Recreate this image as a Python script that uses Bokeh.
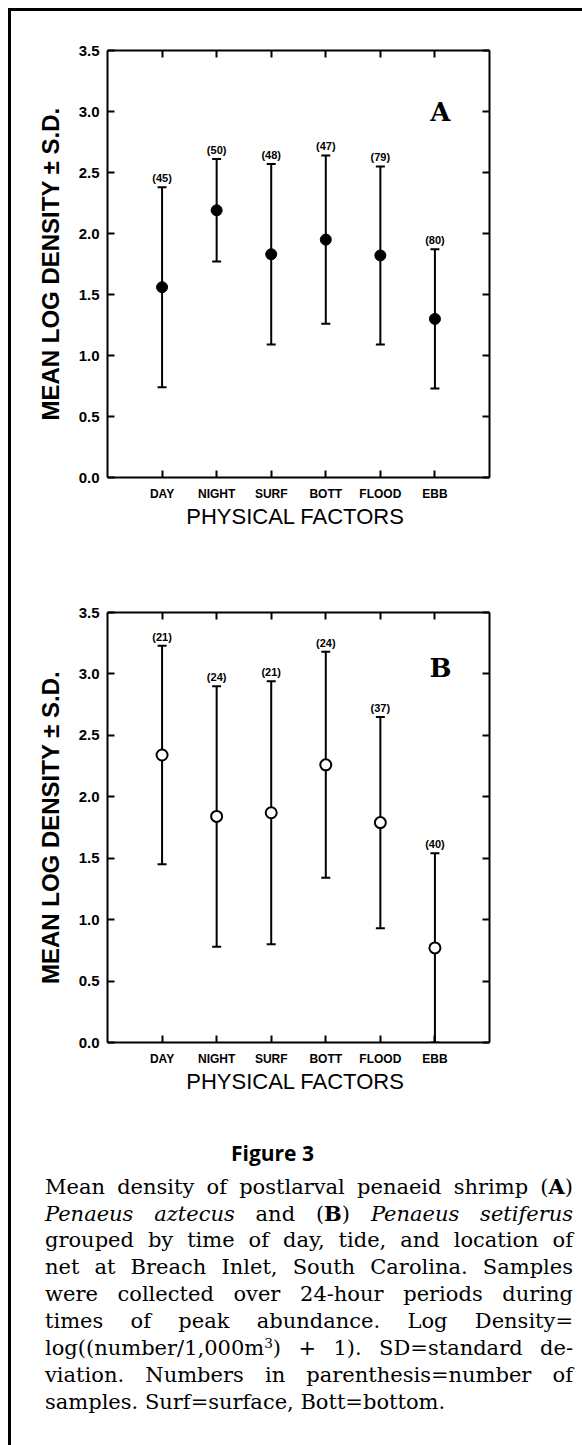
from bokeh.plotting import figure
from bokeh.models import (ColumnDataSource, Whisker, TeeHead, LinearAxis, FixedTicker,
                          Range1d, Label, Div, PrintfTickFormatter)
from bokeh.layouts import column
from bokeh.core.properties import value
from bokeh.embed import file_html
from bokeh.resources import INLINE

# ---------------- data ----------------
categories = ["DAY", "NIGHT", "SURF", "BOTT", "FLOOD", "EBB"]

a_mean = [1.56, 2.19, 1.83, 1.95, 1.82, 1.30]
a_sd = [0.82, 0.42, 0.74, 0.69, 0.73, 0.57]
a_n = [45, 50, 48, 47, 79, 80]

b_mean = [2.34, 1.84, 1.87, 2.26, 1.79, 0.77]
b_sd = [0.89, 1.06, 1.07, 0.92, 0.86, 0.77]
b_n = [21, 24, 21, 24, 37, 40]

y_ticks = [0.0, 0.5, 1.0, 1.5, 2.0, 2.5, 3.0, 3.5]
y_label = "MEAN LOG DENSITY \u00b1 S.D."
x_label = "PHYSICAL  FACTORS"

caption_title = "Figure 3"
caption_lines = [
    "Mean density of postlarval penaeid shrimp (<b>A</b>)",
    "<i>Penaeus aztecus</i> and (<b>B</b>) <i>Penaeus setiferus</i>",
    "grouped by time of day, tide, and location of",
    "net at Breach Inlet, South Carolina. Samples",
    "were collected over 24-hour periods during",
    "times of peak abundance. Log Density=",
    "log((number/1,000m<sup style=\"font-size:0.65em; line-height:0; vertical-align:0.55em;\">3</sup>) + 1). SD=standard de-",
    "viation. Numbers in parenthesis=number of",
    "samples. Surf=surface, Bott=bottom.",
]

SANS = "Liberation Sans"
SERIF = "DejaVu Serif"


def make_panel(means, sds, ns, letter, filled, height, top, bottom, letter_pos):
    xs = list(range(1, len(categories) + 1))
    src = ColumnDataSource(dict(
        x=xs,
        mean=means,
        upper=[m + s for m, s in zip(means, sds)],
        lower=[m - s for m, s in zip(means, sds)],
        label=["(%d)" % n for n in ns],
    ))
    p = figure(width=564, height=height, x_range=Range1d(0, len(categories) + 1),
               y_range=Range1d(y_ticks[0], y_ticks[-1]),
               output_backend="svg", toolbar_location=None,
               min_border_left=96, min_border_right=86,
               min_border_top=top, min_border_bottom=bottom,
               background_fill_color="white", border_fill_color="white")
    p.outline_line_color = None
    p.grid.visible = False

    xt = FixedTicker(ticks=xs)
    yt = FixedTicker(ticks=y_ticks)

    # bottom axis
    xa = p.xaxis[0]
    xa.ticker = xt
    xa.major_label_overrides = {x: c for x, c in zip(xs, categories)}
    xa.major_label_text_font = SANS
    xa.major_label_text_font_style = "bold"
    xa.major_label_text_font_size = "12px"
    xa.major_label_text_color = "black"
    xa.major_label_standoff = 9
    xa.axis_label = x_label
    xa.axis_label_text_font = SANS
    xa.axis_label_text_font_style = "normal"
    xa.axis_label_text_font_size = "22px"
    xa.axis_label_text_color = "black"
    xa.axis_label_standoff = 0

    # left axis
    ya = p.yaxis[0]
    ya.ticker = yt
    ya.formatter = PrintfTickFormatter(format="%.1f")
    ya.major_label_text_font = SANS
    ya.major_label_text_font_style = "bold"
    ya.major_label_text_font_size = "15px"
    ya.major_label_text_color = "black"
    ya.major_label_standoff = 8
    ya.axis_label = y_label
    ya.axis_label_text_font = SANS
    ya.axis_label_text_font_style = "bold"
    ya.axis_label_text_font_size = "24px"
    ya.axis_label_text_color = "black"
    ya.axis_label_standoff = 12

    # mirrored tick marks (no labels) on top and right
    top_axis = LinearAxis(ticker=xt, major_label_text_color=None)
    right_axis = LinearAxis(ticker=yt, major_label_text_color=None)
    p.add_layout(top_axis, "above")
    p.add_layout(right_axis, "right")

    for ax in [xa, ya, top_axis, right_axis]:
        ax.axis_line_width = 2
        ax.axis_line_color = "black"
        ax.major_tick_line_width = 2
        ax.major_tick_line_color = "black"
        ax.major_tick_in = 7
        ax.major_tick_out = 0
        ax.minor_tick_line_color = None

    w = Whisker(base="x", upper="upper", lower="lower", source=src,
                line_width=2, line_color="black", level="underlay",
                upper_head=TeeHead(size=9, line_width=2, line_color="black"),
                lower_head=TeeHead(size=9, line_width=2, line_color="black"))
    p.add_layout(w)

    if filled:
        p.scatter("x", "mean", source=src, size=11, marker="circle",
                  fill_color="black", line_color="black", line_width=1)
    else:
        p.scatter("x", "mean", source=src, size=11, marker="circle",
                  fill_color="white", line_color="black", line_width=2)

    p.text("x", "upper", text="label", source=src, text_align="center",
           text_baseline="bottom", y_offset=-3,
           text_font=value(SANS), text_font_style="bold", text_font_size="11px",
           text_color="black")

    p.add_layout(Label(x=letter_pos[0], y=letter_pos[1], text=letter,
                       text_align="center", text_baseline="middle",
                       text_font=SERIF, text_font_style="bold",
                       text_font_size="26px", text_color="black"))
    return p


pa = make_panel(a_mean, a_sd, a_n, "A", True, 529, 39, 63, (6.1, 3.0))
pb = make_panel(b_mean, b_sd, b_n, "B", False, 562, 72, 60, (6.1, 3.05))

line_html = "".join(
    '<div style="white-space:nowrap; height:27px; text-align:justify; text-align-last:%s;">%s</div>'
    % ("left" if i == len(caption_lines) - 1 else "justify", ln)
    for i, ln in enumerate(caption_lines)
)

cap_html = (
    '<div style="box-sizing:content-box; width:528px; padding-left:29px; padding-top:34px; color:black;">'
    '<div style="width:455px; font-family:\'Open Sans\'; font-weight:bold; font-size:21px; '
    'line-height:24px; text-align:center;">%s</div>'
    '<div style="margin-top:8px; font-family:\'DejaVu Serif\'; font-size:21px; '
    'line-height:27px;">%s</div></div>' % (caption_title, line_html)
)
cap = Div(text=cap_html, width=571, height=340)

layout = column(pa, pb, cap, spacing=0,
                styles={"margin-left": "8px", "margin-top": "8px",
                        "border-left": "3px solid black", "border-top": "3px solid black",
                        "background-color": "white"})

open("out.html", "w").write(file_html(layout, INLINE))
